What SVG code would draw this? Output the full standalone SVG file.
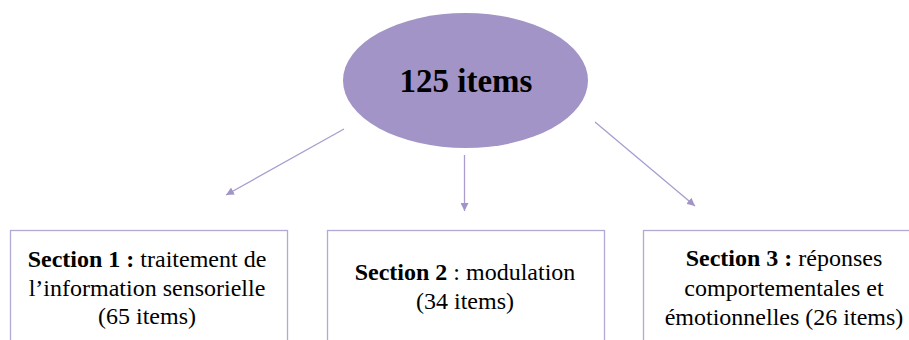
<svg xmlns="http://www.w3.org/2000/svg" width="909" height="340" viewBox="0 0 909 340">
<style>
.box{fill:#fff;stroke:#B3A8D6;stroke-width:1.3}
.t{font-family:"Liberation Serif","Times New Roman",serif;font-size:24px;fill:#000;text-anchor:middle}
.b{font-weight:bold}
.c{stroke:#A99DCF;stroke-width:1.3;fill:none}
</style>
<defs>
<marker id="ah" viewBox="0 0 10 10" refX="10" refY="5" markerWidth="8" markerHeight="8" markerUnits="userSpaceOnUse" orient="auto">
<path d="M0,0 L10,5 L0,10 z" fill="#A294C6"/>
</marker>
</defs>
<rect width="909" height="340" fill="#fff"/>
<g id="root">
<ellipse cx="465.5" cy="80.5" rx="122.5" ry="67.5" fill="#A294C6"/>
<text x="466" y="92" class="t b" style="font-size:33px">125 items</text>
</g>
<g id="connectors">
<line class="c" x1="344" y1="129" x2="226" y2="195" marker-end="url(#ah)"/>
<line class="c" x1="464.5" y1="155" x2="464.5" y2="211" marker-end="url(#ah)"/>
<line class="c" x1="595" y1="122" x2="695" y2="206" marker-end="url(#ah)"/>
</g>
<g id="section1">
<rect class="box" x="10.5" y="230.5" width="277" height="120"/>
<text class="t" x="147" y="267"><tspan class="b">Section 1 :</tspan> traitement de</text>
<text class="t" x="147" y="296">l’information sensorielle</text>
<text class="t" x="147" y="324">(65 items)</text>
</g>
<g id="section2">
<rect class="box" x="327.5" y="230.5" width="277" height="120"/>
<text class="t" x="465" y="280"><tspan class="b">Section 2</tspan> : modulation</text>
<text class="t" x="465" y="309">(34 items)</text>
</g>
<g id="section3">
<rect class="box" x="643.5" y="230.5" width="277" height="120"/>
<text class="t" x="784" y="266"><tspan class="b">Section 3 :</tspan> réponses</text>
<text class="t" x="784" y="296">comportementales et</text>
<text class="t" x="784" y="325">émotionnelles (26 items)</text>
</g>
</svg>
